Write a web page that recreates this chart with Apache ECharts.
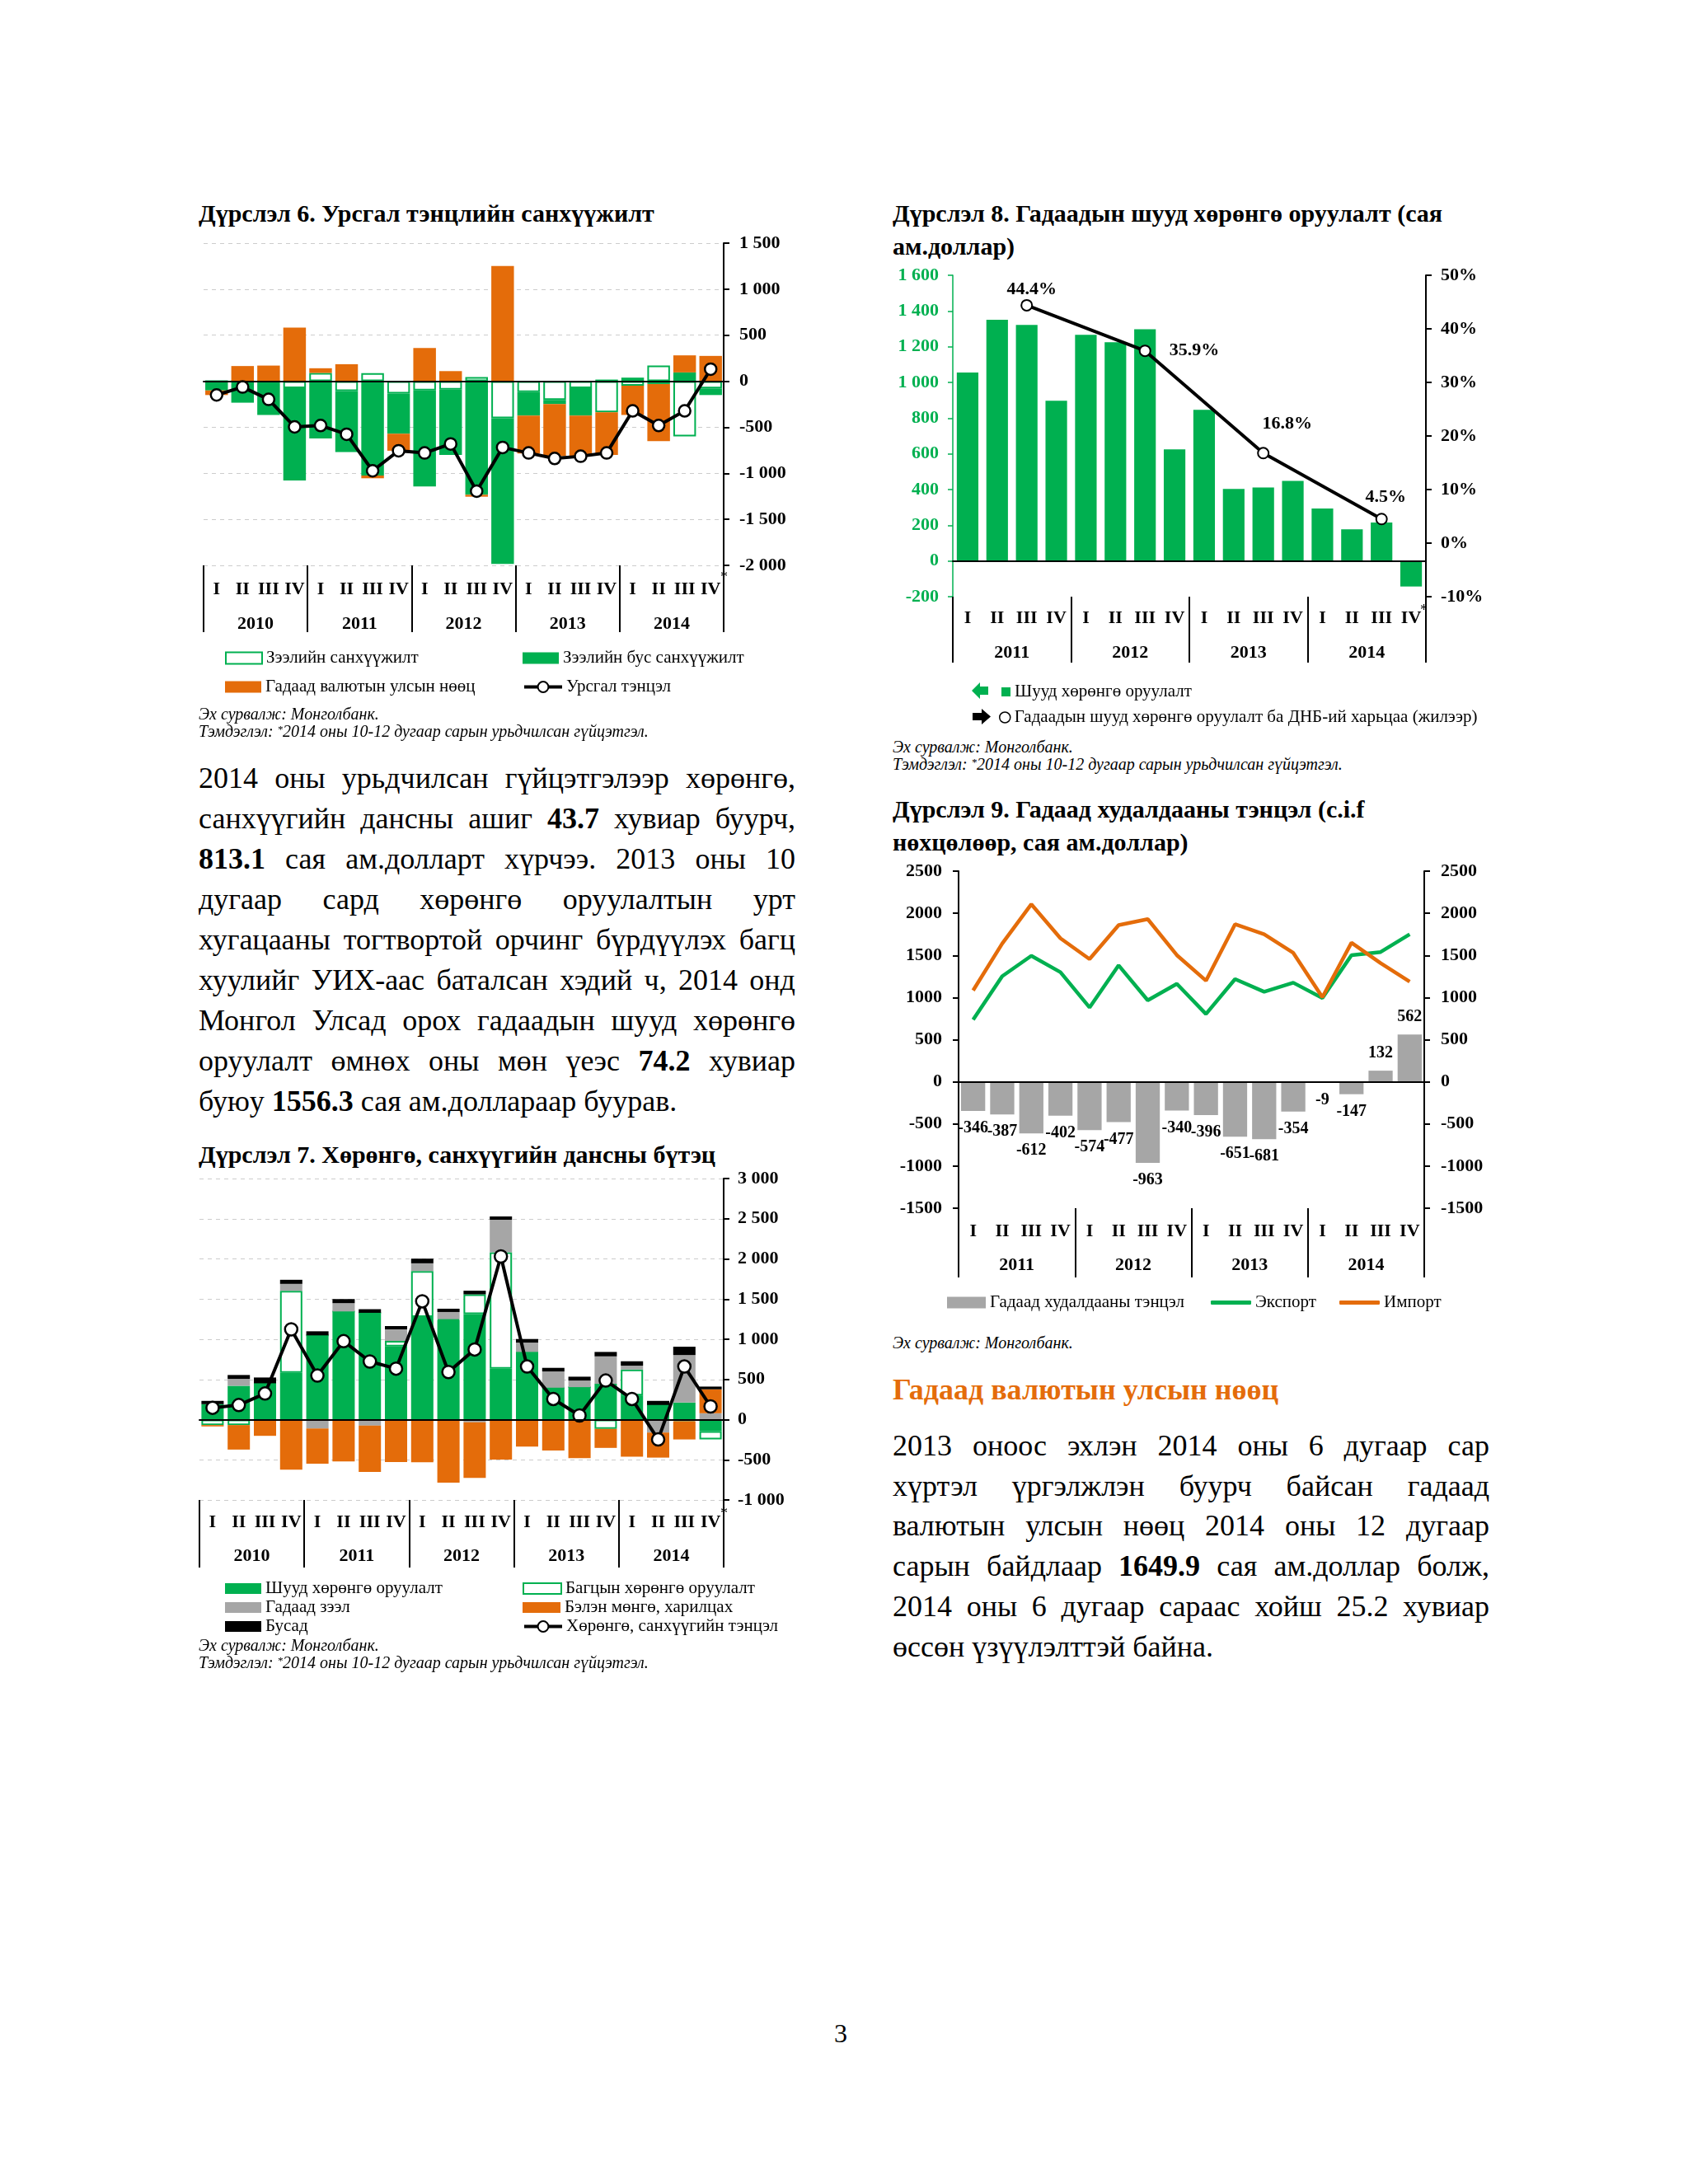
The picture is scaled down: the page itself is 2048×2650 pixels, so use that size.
<!DOCTYPE html>
<html>
<head>
<meta charset="utf-8">
<script src="https://cdn.jsdelivr.net/npm/echarts@6/dist/echarts.min.js"></script>
<style>
html,body{margin:0;padding:0;background:#fff;}
body{width:2048px;height:2650px;position:relative;overflow:hidden;font-family:"Liberation Serif","Times New Roman",serif;color:#000;}
.t{position:absolute;white-space:nowrap;}
.title{font-weight:bold;font-size:30px;line-height:40px;}
.src{font-style:italic;font-size:20px;line-height:21px;}
.chart{position:absolute;}
.head{font-weight:bold;font-size:36px;line-height:44px;color:#e46c0a;}
sup{font-size:13px;vertical-align:top;position:relative;top:-3px;}
</style>
</head>
<body>
<div class="t title" style="left:241px;top:239px;">Дүрслэл 6. Урсгал тэнцлийн санхүүжилт</div>
<div class="chart" id="c6" style="left:237px;top:280px;width:730px;height:590px;"></div>
<div class="t src" style="left:241px;top:856px;">Эх сурвалж: Монголбанк.</div>
<div class="t src" style="left:241px;top:877px;">Тэмдэглэл: <sup>*</sup>2014 оны 10-12 дугаар сарын урьдчилсан гүйцэтгэл.</div>

<div id="p1"></div>

<div class="t title" style="left:241px;top:1381px;">Дүрслэл 7. Хөрөнгө, санхүүгийн дансны бүтэц</div>
<div class="chart" id="c7" style="left:237px;top:1415px;width:730px;height:590px;"></div>
<div class="t src" style="left:241px;top:1986px;">Эх сурвалж: Монголбанк.</div>
<div class="t src" style="left:241px;top:2007px;">Тэмдэглэл: <sup>*</sup>2014 оны 10-12 дугаар сарын урьдчилсан гүйцэтгэл.</div>

<div class="t title" style="left:1083px;top:239px;">Дүрслэл 8. Гадаадын шууд хөрөнгө оруулалт (сая<br>ам.доллар)</div>
<div class="chart" id="c8" style="left:1080px;top:320px;width:740px;height:570px;"></div>
<div class="t src" style="left:1083px;top:896px;">Эх сурвалж: Монголбанк.</div>
<div class="t src" style="left:1083px;top:917px;">Тэмдэглэл: <sup>*</sup>2014 оны 10-12 дугаар сарын урьдчилсан гүйцэтгэл.</div>

<div class="t title" style="left:1083px;top:962px;">Дүрслэл 9. Гадаад худалдааны тэнцэл (c.i.f<br>нөхцөлөөр, сая ам.доллар)</div>
<div class="chart" id="c9" style="left:1080px;top:1040px;width:740px;height:560px;"></div>
<div class="t src" style="left:1083px;top:1619px;">Эх сурвалж: Монголбанк.</div>

<div class="t head" style="left:1083px;top:1664px;">Гадаад валютын улсын нөөц</div>
<div id="p2"></div>

<div class="t" style="left:1012px;top:2448px;font-size:32px;line-height:38px;">3</div>

<script>
// ---------------- DATA ----------------
const quarters = ['I', 'II', 'III', 'IV'];

// Chart 6
const years6 = ['2010', '2011', '2012', '2013', '2014'];
const loanFin6 = [0, 0, 0, -75, 90, -107, 87, -134, -99, -90, 45, -403, -119, -203, -75, -337, -48, 170, -600, -78];
const nonLoanFin6 = [-100, -233, -367, -1003, -621, -663, -1024, -436, -1045, -710, -1233, -1582, -254, -45, -299, 18, 39, -30, 96, -72];
const reserves6 = [-50, 165, 170, 582, 51, 185, -30, -185, 361, 110, -21, 1251, -412, -567, -436, -463, -319, -621, 185, 275];
const currentBal6 = [-149, -63, -197, -496, -481, -576, -973, -755, -779, -681, -1194, -719, -779, -839, -815, -779, -322, -481, -322, 131];
const names6 = ['Зээлийн санхүүжилт', 'Зээлийн бус санхүүжилт', 'Гадаад валютын улсын нөөц', 'Урсгал тэнцэл'];

// Chart 7
const years7 = ['2010', '2011', '2012', '2013', '2014'];
const direct7 = [192, 421, 452, 582, 1048, 1346, 1329, 911, 1277, 1240, 1312, 634, 842, 397, 404, 445, 301, 182, 212, -144];
const portfolio7 = [-68, -68, 0, 1021, 0, 0, 0, 68, 572, 10, 247, 1449, 0, 0, 0, -116, 322, 0, -20, -103];
const loans7 = [0, 86, 0, 86, -110, 103, -75, 144, 96, 89, -34, 404, 116, 202, 82, 342, 48, -161, 592, 79];
const cash7 = [-17, -305, -202, -623, -438, -521, -575, -527, -531, -784, -692, -497, -336, -384, -479, -236, -462, -312, -227, 298];
const other7 = [41, 48, 72, 51, 51, 51, 45, 41, 58, 41, 45, 41, 45, 45, 48, 55, 55, 51, 103, 34];
const balance7 = [147, 181, 325, 1123, 548, 976, 723, 634, 1473, 592, 873, 2031, 661, 257, 51, 486, 257, -247, 661, 164];
const names7 = ['Шууд хөрөнгө оруулалт', 'Багцын хөрөнгө оруулалт', 'Гадаад зээл', 'Бэлэн мөнгө, харилцах', 'Бусад', 'Хөрөнгө, санхүүгийн тэнцэл'];

// Chart 8
const years8 = ['2011', '2012', '2013', '2014'];
const fdi8 = [1055, 1351, 1322, 897, 1266, 1225, 1298, 625, 846, 403, 411, 448, 294, 177, 215, -143];
const fdiGdp8 = [44.4, 35.9, 16.8, 4.5]; // annual ratio, shown at quarter III of each year
const names8 = ['Шууд хөрөнгө оруулалт', 'Гадаадын шууд хөрөнгө оруулалт ба ДНБ-ий харьцаа (жилээр)'];

// Chart 9
const years9 = ['2011', '2012', '2013', '2014'];
const tradeBal9 = [-346, -387, -612, -402, -574, -477, -963, -340, -396, -651, -681, -354, -9, -147, 132, 562];
const exports9 = [738, 1253, 1495, 1301, 882, 1382, 967, 1163, 804, 1219, 1069, 1176, 995, 1503, 1540, 1750];
const imports9 = [1084, 1640, 2107, 1703, 1456, 1859, 1930, 1503, 1200, 1870, 1750, 1530, 1004, 1650, 1408, 1188];
const names9 = ['Гадаад худалдааны тэнцэл', 'Экспорт', 'Импорт'];

// Text
const para1 = [
  "2014 оны урьдчилсан гүйцэтгэлээр хөрөнгө,",
  "санхүүгийн дансны ашиг **43.7** хувиар буурч,",
  "**813.1** сая ам.долларт хүрчээ. 2013 оны 10",
  "дугаар сард хөрөнгө оруулалтын урт",
  "хугацааны тогтвортой орчинг бүрдүүлэх багц",
  "хуулийг УИХ-аас баталсан хэдий ч, 2014 онд",
  "Монгол Улсад орох гадаадын шууд хөрөнгө",
  "оруулалт өмнөх оны мөн үеэс **74.2** хувиар",
  "буюу **1556.3** сая ам.доллараар буурав."
];
const para2 = [
  "2013 оноос эхлэн 2014 оны 6 дугаар сар",
  "хүртэл үргэлжлэн буурч байсан гадаад",
  "валютын улсын нөөц 2014 оны 12 дугаар",
  "сарын байдлаар **1649.9** сая ам.доллар болж,",
  "2014 оны 6 дугаар сараас хойш 25.2 хувиар",
  "өссөн үзүүлэлттэй байна."
];

// ---------------- TEXT RENDER ----------------
function renderPara(id, lines, left, top, width, lh, fs) {
  const host = document.getElementById(id);
  lines.forEach((ln, i) => {
    const d = document.createElement('div');
    const last = i === lines.length - 1;
    d.style.cssText = 'position:absolute;white-space:nowrap;left:' + left + 'px;top:' + (top + i * lh) + 'px;width:' + width + 'px;height:' + lh + 'px;line-height:' + lh + 'px;font-size:' + fs + 'px;' + (last ? '' : 'display:flex;justify-content:space-between;');
    const words = ln.split(' ');
    words.forEach((w, j) => {
      const s = document.createElement('span');
      if (w.startsWith('**')) { s.style.fontWeight = 'bold'; s.textContent = w.replace(/\*\*/g, ''); }
      else s.textContent = w;
      d.appendChild(s);
      if (last && j < words.length - 1) d.appendChild(document.createTextNode(' '));
    });
    host.appendChild(d);
  });
}
renderPara('p1', para1, 241, 920, 724, 49, 36);
renderPara('p2', para2, 1083, 1730, 724, 48.7, 36);

// ---------------- CHART HELPERS ----------------
const FONT = '"Liberation Serif","Times New Roman",serif';
const GREEN = '#00b050', ORANGE = '#e46c0a', GRAY = '#a6a6a6';
const fmtSpace = v => String(v).replace(/\B(?=(\d{3})+(?!\d))/g, ' ');
const fmtPlain = v => String(v);
const bold22 = { fontFamily: FONT, fontWeight: 'bold', fontSize: 22, color: '#000' };
const legendText = { fontFamily: FONT, fontSize: 21, color: '#000' };

function quarterCats(yrs) {
  const out = [];
  yrs.forEach(y => quarters.forEach(q => out.push(y + ' ' + q)));
  return out;
}
function xAxes(yrs, qMargin, yMargin, tickLen) {
  const cats = quarterCats(yrs);
  return [
    { type: 'category', data: cats, position: 'bottom',
      axisLine: { show: false, onZero: false }, axisTick: { show: false },
      axisLabel: { interval: 0, margin: qMargin, formatter: v => v.split(' ')[1], ...bold22 }, splitLine: { show: false } },
    { type: 'category', data: yrs, position: 'bottom',
      axisLine: { show: false, onZero: false },
      axisTick: { show: true, interval: 0, length: tickLen, lineStyle: { color: '#000', width: 2 } },
      axisLabel: { interval: 0, margin: yMargin, ...bold22 }, splitLine: { show: false } },
    { type: 'category', data: cats, position: 'bottom', z: 10,
      axisLine: { show: true, onZero: true, onZeroAxisIndex: 0, lineStyle: { color: '#000', width: 2 } },
      axisTick: { show: false }, axisLabel: { show: false }, splitLine: { show: false } }
  ];
}
function lg(name, left, top, w, h, extra) {
  return Object.assign({ data: [name], left: left, top: top, itemWidth: w, itemHeight: h, itemGap: 0, padding: 0,
    textStyle: legendText, selectedMode: false, orient: 'horizontal' }, extra || {});
}
function rightAxis(min, max, interval, fmt, extra) {
  return Object.assign({ type: 'value', position: 'right', min: min, max: max, interval: interval,
    axisLine: { show: true, lineStyle: { color: '#000', width: 2 } },
    axisTick: { show: true, length: 7, lineStyle: { color: '#000', width: 2 } },
    axisLabel: { margin: 19, formatter: fmt, ...bold22 },
    splitLine: { show: false } }, extra || {});
}
const dashedSplit = { show: true, lineStyle: { color: '#cccccc', type: [5, 5], width: 1 } };
const markerLine = (data, size) => ({
  type: 'line', data: data, symbol: 'circle', symbolSize: size, z: 5,
  lineStyle: { color: '#000', width: 4 },
  itemStyle: { color: '#fff', borderColor: '#000', borderWidth: 2.5 }
});
const lineLegendExtra = { lineStyle: { width: 4, color: '#000' }, itemStyle: { color: '#fff', borderColor: '#000', borderWidth: 2 } };

// ---------------- CHART 6 ----------------
(function () {
  const ch = echarts.init(document.getElementById('c6'), null, { renderer: 'canvas' });
  ch.setOption({
    animation: false,
    textStyle: { fontFamily: FONT },
    grid: { left: 10, top: 15, width: 631, height: 391, containLabel: false, outerBoundsMode: 'none' },
    xAxis: xAxes(years6, 18, 60, 81),
    yAxis: rightAxis(-2000, 1500, 500, fmtSpace, { splitLine: dashedSplit }),
    legend: [
      lg(names6[0], 36, 508, 44, 14, { icon: 'rect' }),
      lg(names6[1], 397, 508, 44, 14, { icon: 'rect' }),
      lg(names6[2], 36, 543, 44, 14, { icon: 'rect' }),
      lg(names6[3], 397, 543, 46, 16, lineLegendExtra)
    ],
    graphic: [{ type: 'text', left: 637, top: 412, style: { text: '*', fontSize: 18, fontFamily: FONT, fill: '#000' } }],
    series: [
      { name: names6[0], type: 'bar', stack: 's', data: loanFin6, barCategoryGap: '13%',
        itemStyle: { color: '#fff', borderColor: GREEN, borderWidth: 2 } },
      { name: names6[1], type: 'bar', stack: 's', data: nonLoanFin6, itemStyle: { color: GREEN } },
      { name: names6[2], type: 'bar', stack: 's', data: reserves6, itemStyle: { color: ORANGE } },
      Object.assign({ name: names6[3] }, markerLine(currentBal6, 14))
    ]
  });
})();

// ---------------- CHART 7 ----------------
(function () {
  const ch = echarts.init(document.getElementById('c7'), null, { renderer: 'canvas' });
  ch.setOption({
    animation: false,
    textStyle: { fontFamily: FONT },
    grid: { left: 5, top: 15, width: 636, height: 390, containLabel: false, outerBoundsMode: 'none' },
    xAxis: xAxes(years7, 16, 57, 82),
    yAxis: rightAxis(-1000, 3000, 500, fmtSpace, { splitLine: dashedSplit, axisLabel: { margin: 17, formatter: fmtSpace, ...bold22 } }),
    legend: [
      lg(names7[0], 36, 502, 44, 13, { icon: 'rect' }),
      lg(names7[1], 397, 502, 46, 13, { icon: 'rect' }),
      lg(names7[2], 36, 525, 44, 13, { icon: 'rect' }),
      lg(names7[3], 397, 525, 46, 13, { icon: 'rect' }),
      lg(names7[4], 36, 548, 44, 13, { icon: 'rect' }),
      lg(names7[5], 397, 548, 46, 16, lineLegendExtra)
    ],
    graphic: [{ type: 'text', left: 637, top: 413, style: { text: '*', fontSize: 18, fontFamily: FONT, fill: '#000' } }],
    series: [
      { name: names7[0], type: 'bar', stack: 's', data: direct7, barCategoryGap: '15%', itemStyle: { color: GREEN } },
      { name: names7[1], type: 'bar', stack: 's', data: portfolio7, itemStyle: { color: '#fff', borderColor: GREEN, borderWidth: 2 } },
      { name: names7[2], type: 'bar', stack: 's', data: loans7, itemStyle: { color: GRAY } },
      { name: names7[3], type: 'bar', stack: 's', data: cash7, itemStyle: { color: ORANGE } },
      { name: names7[4], type: 'bar', stack: 's', data: other7, itemStyle: { color: '#000' } },
      Object.assign({ name: names7[5] }, markerLine(balance7, 15))
    ]
  });
})();

// ---------------- CHART 8 ----------------
(function () {
  const ch = echarts.init(document.getElementById('c8'), null, { renderer: 'canvas' });
  const cats = quarterCats(years8);
  const lineData = [];
  const labelCfg = [
    { position: 'top', offset: [6, 4] },
    { position: 'right', offset: [17, 0] },
    { position: 'top', offset: [29, -12] },
    { position: 'top', offset: [5, -3] }
  ];
  cats.forEach(c => {
    const [y, q] = c.split(' ');
    const k = years8.indexOf(y);
    if (q === 'III') lineData.push({ value: fdiGdp8[k], label: labelCfg[k] });
    else lineData.push(null);
  });
  ch.setOption({
    animation: false,
    textStyle: { fontFamily: FONT },
    grid: { left: 76, top: 14, width: 574, height: 390, containLabel: false, outerBoundsMode: 'none' },
    xAxis: xAxes(years8, 15, 57, 80),
    yAxis: [
      { type: 'value', position: 'left', min: -200, max: 1600, interval: 200,
        axisLine: { show: true, lineStyle: { color: GREEN, width: 1.5 } },
        axisTick: { show: true, length: 6, lineStyle: { color: GREEN, width: 1.5 } },
        axisLabel: { margin: 17, formatter: fmtSpace, ...bold22, color: GREEN },
        splitLine: { show: false } },
      rightAxis(-10, 50, 10, v => v + '%', { axisLabel: { margin: 18, formatter: v => v + '%', ...bold22 } })
    ],
    legend: [
      lg(names8[0], 135, 509, 11, 11, { icon: 'rect' }),
      lg(names8[1], 132, 540, 13, 13, { icon: 'circle', itemStyle: { color: '#fff', borderColor: '#000', borderWidth: 1.5 } })
    ],
    graphic: [
      { type: 'polygon', shape: { points: [[99, 518], [109, 508], [109, 513], [119, 513], [119, 523], [109, 523], [109, 528]] }, style: { fill: GREEN } },
      { type: 'polygon', shape: { points: [[122, 549.5], [111, 540], [111, 545], [100, 545], [100, 554], [111, 554], [111, 559]] }, style: { fill: '#000' } },
      { type: 'text', left: 643, top: 412, style: { text: '*', fontSize: 18, fontFamily: FONT, fill: '#000' } }
    ],
    series: [
      { name: names8[0], type: 'bar', data: fdi8, barCategoryGap: '27%', itemStyle: { color: GREEN } },
      { name: names8[1], type: 'line', yAxisIndex: 1, data: lineData, connectNulls: true,
        symbol: 'circle', symbolSize: 13, z: 5,
        lineStyle: { color: '#000', width: 4 },
        itemStyle: { color: '#fff', borderColor: '#000', borderWidth: 2 },
        label: { show: true, formatter: p => p.value + '%', ...bold22, distance: 5 } }
    ]
  });
})();

// ---------------- CHART 9 ----------------
(function () {
  const ch = echarts.init(document.getElementById('c9'), null, { renderer: 'canvas' });
  const axisCommon = {
    type: 'value', min: -1500, max: 2500, interval: 500,
    axisLine: { show: true, lineStyle: { color: '#000', width: 2 } },
    axisTick: { show: true, length: 7, lineStyle: { color: '#000', width: 2 } },
    splitLine: { show: false }
  };
  ch.setOption({
    animation: false,
    textStyle: { fontFamily: FONT },
    grid: { left: 83, top: 17, width: 565, height: 409, containLabel: false, outerBoundsMode: 'none' },
    xAxis: xAxes(years9, 17, 58, 84),
    yAxis: [
      Object.assign({}, axisCommon, { position: 'left', axisLabel: { margin: 20, formatter: fmtPlain, ...bold22 } }),
      Object.assign({}, axisCommon, { position: 'right', axisLabel: { margin: 20, formatter: fmtPlain, ...bold22 } })
    ],
    legend: [
      lg(names9[0], 69, 530, 47, 14, { icon: 'rect' }),
      lg(names9[1], 389, 530, 49, 5, { icon: 'roundRect' }),
      lg(names9[2], 545, 530, 49, 5, { icon: 'roundRect' })
    ],
    series: [
      { name: names9[0], type: 'bar', barCategoryGap: '17%', itemStyle: { color: GRAY },
        data: tradeBal9.map(v => ({ value: v, label: { position: v < 0 ? 'bottom' : 'top' } })),
        label: { show: true, distance: 11, fontFamily: FONT, fontWeight: 'bold', fontSize: 20, color: '#000' } },
      { name: names9[1], type: 'line', data: exports9, symbol: 'none', z: 5, itemStyle: { color: GREEN },
        lineStyle: { color: GREEN, width: 4.5 } },
      { name: names9[2], type: 'line', data: imports9, symbol: 'none', z: 5, itemStyle: { color: ORANGE },
        lineStyle: { color: ORANGE, width: 4.5 } }
    ]
  });
})();
</script>
</body>
</html>
